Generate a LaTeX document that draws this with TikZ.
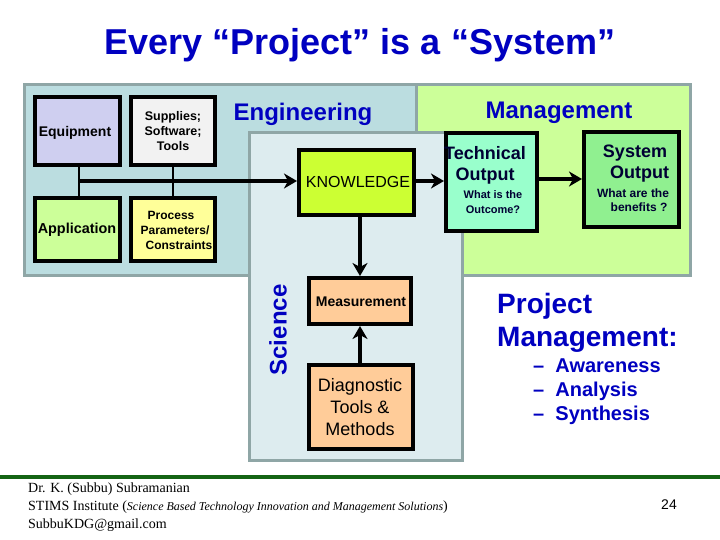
\documentclass[tikz,border=0pt]{standalone}
\usepackage{fontspec}
\setmainfont{Liberation Sans}
\newfontfamily\serifface{Liberation Serif}
\usetikzlibrary{arrows.meta}
\definecolor{paneledge}{HTML}{8FA6A6}
\definecolor{engfill}{HTML}{BBDDE0}
\definecolor{mgtfill}{HTML}{CCFF99}
\definecolor{scifill}{HTML}{DDECEF}
\definecolor{headblue}{HTML}{0000C0}
\definecolor{rulegreen}{HTML}{146414}
\definecolor{equipfill}{HTML}{CFCFF0}
\definecolor{supplyfill}{HTML}{F2F2F2}
\definecolor{applfill}{HTML}{CCFF99}
\definecolor{procfill}{HTML}{FFFF99}
\definecolor{knowfill}{HTML}{CCFF33}
\definecolor{techfill}{HTML}{99FFCC}
\definecolor{sysfill}{HTML}{90F090}
\definecolor{orangefill}{HTML}{FFCC99}
\definecolor{darktext}{HTML}{000033}
\tikzset{
  x=1pt,y=-1pt,
  panel/.style={draw=paneledge,line width=3pt,inner sep=0pt},
  boxa/.style={draw=black,line width=4pt,inner sep=0pt,align=center,text=black},
  head/.style={text=headblue,font=\bfseries,inner sep=0pt,align=center},
  small/.style={font=\fontsize{12}{15}\selectfont\bfseries,inner sep=0pt,align=center},
  conn/.style={line width=3.5pt,-{Stealth[length=13pt,width=15pt,inset=4pt]}},
  stem/.style={line width=2.4pt},
}
\newcommand{\boxat}[7]{\node[boxa,fill=#6,minimum width=#4-#2-4pt,minimum height=#5-#3-4pt,anchor=north west] (#1) at (#2,#3) {#7};}
\begin{document}
\begin{tikzpicture}
\useasboundingbox (0,0) rectangle (720,540);
\fill[white] (0,0) rectangle (720,540);
% panels
\path[panel,fill=mgtfill] (416,85) rectangle (690,275);
\path[panel,fill=engfill] (24,85) rectangle (416,275);
\path[panel,fill=scifill] (249,133) rectangle (462,460);
% boxes
\boxat{equip}{33}{95}{122}{167}{equipfill}{}
\boxat{supply}{129}{95}{217}{167}{supplyfill}{}
\boxat{appl}{33}{196}{122}{263}{applfill}{}
\boxat{proc}{129}{196}{217}{263}{procfill}{}
\boxat{know}{297}{148}{416}{217}{knowfill}{}
\boxat{tech}{444}{131}{539}{233}{techfill}{}
\boxat{sys}{582}{130}{681}{229}{sysfill}{}
\boxat{meas}{307}{276}{413}{326}{orangefill}{}
\boxat{diag}{307}{363}{415}{451}{orangefill}{}
% connectors
\coordinate (busleft) at (79,181);
\coordinate (busright) at (297,181);
\coordinate (knowout) at (416,181);
\coordinate (techin) at (444,181);
\coordinate (techout) at (539,179);
\coordinate (sysin) at (582,179);
\coordinate (knowdown) at (360,217);
\coordinate (measin) at (360,276);
\coordinate (diagup) at (360,363);
\coordinate (measout) at (360,326);
\draw[stem] (79,167) -- (79,196);
\draw[stem] (173,167) -- (173,196);
\draw[conn] (busleft) -- (busright);
\draw[conn] (knowout) -- (techin);
\draw[conn] (techout) -- (sysin);
\draw[conn] (knowdown) -- (measin);
\draw[conn] (diagup) -- (measout);
% texts
\node[inner sep=0pt,text=headblue,font=\fontsize{36}{40}\selectfont\bfseries] (title) at (360,45) {Every “Project” is a “System”};
\node[head,font=\fontsize{24}{28}\selectfont\bfseries] (enghead) at (303,114) {Engineering};
\node[head,font=\fontsize{24}{28}\selectfont\bfseries] (mgthead) at (559,113) {Management};
\node[head,font=\fontsize{24}{28}\selectfont\bfseries,rotate=90] (scihead) at (278,330) {Science};
\node[small,font=\fontsize{14}{16}\selectfont\bfseries] (equiptext) at (75,133) {Equipment};
\node[small,font=\fontsize{12.5}{15}\selectfont\bfseries] (supplytext) at (173,131) {Supplies;\\Software;\\Tools};
\node[small,font=\fontsize{14.4}{16}\selectfont\bfseries] (appltext) at (77,230) {Application};
\node[small,font=\fontsize{12}{15}\selectfont\bfseries] (proctext) at (175,230) {Process\hspace*{8pt}\\Parameters/\hspace*{8pt}\\\hspace*{8pt}Constraints};
\node[inner sep=0pt,font=\fontsize{16}{18}\selectfont] (knowtext) at (358,182) {KNOWLEDGE};
\node[inner sep=0pt,text=darktext,font=\fontsize{18}{21}\selectfont\bfseries,align=center] (techtext) at (485,165) {Technical\\Output};
\node[small,text=darktext,font=\fontsize{11}{15}\selectfont\bfseries] (techsub) at (493,202) {What is the\\Outcome?};
\node[inner sep=0pt,text=darktext,font=\fontsize{18}{21}\selectfont\bfseries,align=center] (systext) at (635,164) {System\\\hspace*{9pt}Output};
\node[small,text=darktext,font=\fontsize{12}{14}\selectfont\bfseries] (syssub) at (633,200) {What are the\\\hspace*{12pt}benefits ?};
\node[small,font=\fontsize{14}{16}\selectfont\bfseries] (meastext) at (361,302) {Measurement};
\node[inner sep=0pt,font=\fontsize{18}{22}\selectfont,align=center] (diagtext) at (360,407) {Diagnostic\\Tools \&\\Methods};
\node[inner sep=0pt,anchor=north west,text=headblue,font=\fontsize{28}{33.5}\selectfont\bfseries,align=left] (pm) at (497,293) {Project\\Management:};
\node[inner sep=0pt,anchor=north west,text=headblue,font=\fontsize{20}{24}\selectfont\bfseries,align=left] (pmlist) at (533,359) {– \ Awareness\\– \ Analysis\\– \ Synthesis};
% footer
\draw[rulegreen,line width=4pt] (0,477) -- (720,477);
\node[inner sep=0pt,anchor=north west,align=left,font=\serifface\fontsize{14}{17.7}\selectfont] (foot) at (28,483) {Dr. K. (Subbu) Subramanian\\STIMS Institute ({\itshape\fontsize{12}{17.7}\selectfont Science Based Technology Innovation and Management Solutions})\\SubbuKDG@gmail.com};
\node[inner sep=0pt,font=\fontsize{14}{16}\selectfont] (pagenum) at (669,505) {24};
\end{tikzpicture}
\end{document}
